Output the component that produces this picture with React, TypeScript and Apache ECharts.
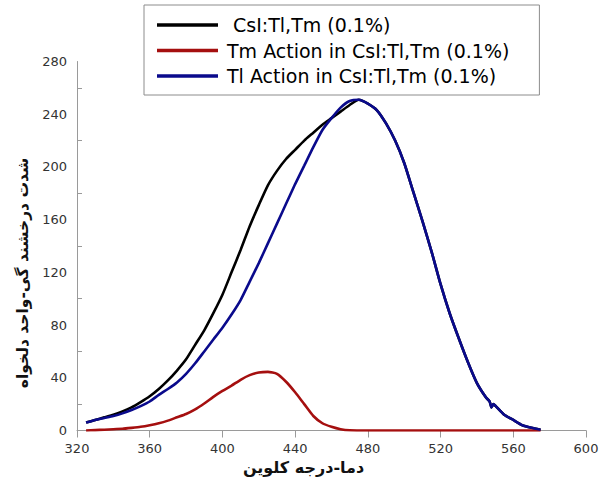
import React, { useEffect, useRef } from "react";
import * as echarts from "echarts";

const seriesNames = [
  " CsI:Tl,Tm (0.1%)",
  "Tm Action in CsI:Tl,Tm (0.1%)",
  "Tl Action in CsI:Tl,Tm (0.1%)",
];

const totalT = [325, 330, 335, 340, 345, 350, 355, 360, 365, 370, 375, 380, 385, 390, 395, 400, 405, 410, 415, 420, 425, 430, 435, 440, 445, 450, 455, 460, 465, 470, 475, 480, 485, 490, 495, 500, 505, 510, 515, 520, 525, 530, 535, 540, 545, 547, 548, 549, 550, 555, 560, 565, 570, 575];
const totalV = [6, 8, 10, 12, 14.5, 17.5, 21.5, 26, 31.5, 38, 45.5, 54, 65, 76, 89, 103, 120, 137, 155, 171, 186, 197, 206, 213, 220, 226, 232, 237, 242, 247, 251, 248, 243, 233, 220, 203, 181, 159, 136, 111, 89, 70, 52, 36, 25, 22, 17.5, 20, 19, 12, 8, 4, 2, 0.5];

const tmT = [325, 330, 335, 340, 345, 350, 355, 360, 365, 370, 375, 380, 385, 390, 395, 400, 405, 410, 415, 420, 425, 430, 435, 440, 445, 450, 455, 460, 465, 470, 480, 500, 520, 540, 560, 575];
const tmV = [0, 0.3, 0.6, 1, 1.3, 2, 2.8, 4, 5.5, 7.5, 10, 12.5, 16, 20.5, 25.5, 30, 34, 38.5, 42, 44, 44.5, 43, 37, 29, 20, 11, 5.5, 2.8, 1, 0.2, 0, 0, 0, 0, 0, 0];

const tlT = [325, 330, 335, 340, 345, 350, 355, 360, 365, 370, 375, 380, 385, 390, 395, 400, 405, 410, 415, 420, 425, 430, 435, 440, 445, 450, 455, 460, 465, 470, 475, 480, 485, 490, 495, 500, 505, 510, 515, 520, 525, 530, 535, 540, 545, 547, 548, 549, 550, 555, 560, 565, 570, 575];
const tlV = [6, 8, 9.5, 11, 13, 15.5, 18.5, 22, 27, 31.5, 36.5, 43, 51, 60, 69, 78, 88, 99, 113, 127, 142, 157, 172, 187, 201, 215, 228, 237, 245, 250, 251, 248, 243, 233, 220, 203, 181, 159, 136, 111, 89, 70, 52, 36, 25, 22, 17.5, 20, 19, 12, 8, 4, 2, 0.5];

const xTitle = "دما-درجه کلوین";
const yTitle = "شدت درخشند گی-واحد دلخواه";

const colors = ["#000000", "#a50f0f", "#0a0a8c"];

const zip = (xs: number[], ys: number[]) => xs.map((x, i) => [x, ys[i]]);

export default function App() {
  const ref = useRef<HTMLDivElement>(null);
  useEffect(() => {
    if (!ref.current) return;
    const chart = echarts.init(ref.current, null, { renderer: "svg" });
    const sets = [
      [totalT, totalV],
      [tmT, tmV],
      [tlT, tlV],
    ];
    chart.setOption({
      animation: false,
      backgroundColor: "#ffffff",
      grid: { left: 77, right: 18, top: 61.5, bottom: 51.5 },
      legend: {
        orient: "vertical",
        left: 144,
        top: 5,
        data: seriesNames,
        icon: "rect",
        itemWidth: 61,
        itemHeight: 3.5,
        itemGap: 6.5,
        padding: [10.5, 30, 9.5, 13],
        borderColor: "#8c8c8c",
        borderWidth: 1,
        textStyle: {
          fontFamily: "DejaVu Sans",
          fontSize: 19,
          color: "#000",
          padding: [0, 0, 0, 4],
          lineHeight: 19,
        },
      },
      xAxis: {
        type: "value",
        min: 320,
        max: 600,
        interval: 40,
        name: xTitle,
        nameLocation: "middle",
        nameGap: 26,
        nameTextStyle: {
          fontFamily: "DejaVu Sans",
          fontWeight: "bold",
          fontSize: 16,
          color: "#111",
          padding: [0, 56, 0, 0],
        },
        splitLine: { show: false },
        axisLine: { lineStyle: { color: "#9a9a9a", width: 1 } },
        axisTick: { show: true, length: 7, lineStyle: { color: "#9a9a9a" } },
        axisLabel: {
          fontFamily: "DejaVu Sans",
          fontSize: 13,
          color: "#333",
          margin: 11,
        },
      },
      yAxis: {
        type: "value",
        min: 0,
        max: 280,
        interval: 40,
        name: yTitle,
        nameLocation: "middle",
        nameGap: 44,
        nameTextStyle: {
          fontFamily: "DejaVu Sans",
          fontWeight: "bold",
          fontSize: 15.5,
          color: "#111",
          padding: [0, 54, 0, 0],
        },
        splitLine: { show: false },
        axisLine: { show: true, lineStyle: { color: "#9a9a9a", width: 1 } },
        axisTick: { show: false, inside: true },
        minorTick: { show: true, splitNumber: 2, length: 5, lineStyle: { color: "#9a9a9a" } },
        minorSplitLine: { show: false },
        axisLabel: {
          fontFamily: "DejaVu Sans",
          fontSize: 13,
          color: "#333",
          margin: 10,
        },
      },
      series: sets.map((s, i) => ({
        name: seriesNames[i],
        type: "line",
        data: zip(s[0], s[1]),
        showSymbol: false,
        symbol: "none",
        smooth: 0.2,
        lineStyle: { color: colors[i], width: 2.6 },
        itemStyle: { color: colors[i] },
      })),
    });
    return () => chart.dispose();
  }, []);
  return <div ref={ref} style={{ width: 604, height: 482, position: "absolute", left: 0, top: 0 }} />;
}
